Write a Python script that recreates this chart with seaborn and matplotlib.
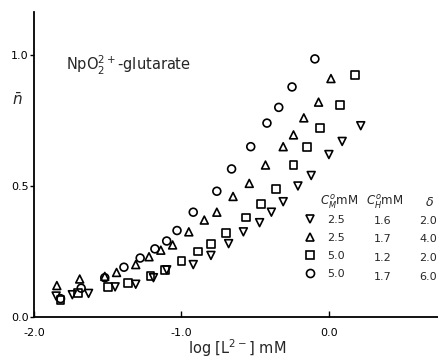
import numpy as np
import pandas as pd
import matplotlib
matplotlib.use("Agg")
import matplotlib.pyplot as plt
import seaborn as sns
from matplotlib.lines import Line2D

sns.set_theme(style="white")
plt.rcParams['font.family'] = ['DejaVu Sans']
plt.rcParams['mathtext.fontset'] = 'dejavusans'

# ---- data ----
# series: C_M=2.5, C_H=1.6, delta=2.0 (down triangles)
x_tri_down = [-1.85, -1.74, -1.63, -1.45, -1.31, -1.19, -1.10, -0.92, -0.80, -0.68,
              -0.58, -0.47, -0.39, -0.31, -0.21, -0.12, 0.00, 0.09, 0.216]
y_tri_down = [0.08, 0.085, 0.09, 0.115, 0.125, 0.15, 0.18, 0.20, 0.235, 0.28,
              0.325, 0.36, 0.40, 0.44, 0.50, 0.54, 0.62, 0.67, 0.73]
# series: C_M=2.5, C_H=1.7, delta=4.0 (up triangles)
x_tri_up = [-1.845, -1.69, -1.52, -1.44, -1.31, -1.22, -1.14, -1.06, -0.95, -0.845,
            -0.76, -0.65, -0.54, -0.43, -0.31, -0.24, -0.17, -0.07, 0.014]
y_tri_up = [0.12, 0.145, 0.155, 0.17, 0.20, 0.23, 0.255, 0.275, 0.325, 0.37,
            0.40, 0.46, 0.51, 0.58, 0.65, 0.695, 0.76, 0.82, 0.91]
# series: C_M=5.0, C_H=1.2, delta=2.0 (squares)
x_square = [-1.82, -1.70, -1.50, -1.36, -1.21, -1.11, -1.00, -0.89, -0.80, -0.70,
            -0.56, -0.46, -0.36, -0.24, -0.15, -0.06, 0.074, 0.176]
y_square = [0.065, 0.09, 0.115, 0.13, 0.155, 0.18, 0.215, 0.25, 0.28, 0.32,
            0.38, 0.43, 0.49, 0.58, 0.65, 0.72, 0.81, 0.924]
# series: C_M=5.0, C_H=1.7, delta=6.0 (circles)
x_circle = [-1.82, -1.68, -1.52, -1.39, -1.28, -1.18, -1.10, -1.03, -0.92, -0.76,
            -0.66, -0.53, -0.42, -0.34, -0.25, -0.095]
y_circle = [0.07, 0.11, 0.15, 0.19, 0.225, 0.26, 0.29, 0.33, 0.40, 0.48,
            0.565, 0.65, 0.74, 0.80, 0.878, 0.985]

series_names = ["tri_down", "tri_up", "square", "circle"]
series_markers = ["v", "^", "s", "o"]
col_cm = ["2.5", "2.5", "5.0", "5.0"]
col_ch = ["1.6", "1.7", "1.2", "1.7"]
col_delta = ["2.0", "4.0", "2.0", "6.0"]

x_ticks = [-2.0, -1.0, 0.0]
x_ticklabels = ["-2.0", "-1.0", "0.0"]
y_ticks = [0.0, 0.5, 1.0]
y_ticklabels = ["0.0", "0.5", "1.0"]

frames = []
for name, xs, ys in zip(series_names,
                        [x_tri_down, x_tri_up, x_square, x_circle],
                        [y_tri_down, y_tri_up, y_square, y_circle]):
    frames.append(pd.DataFrame({"x": xs, "y": ys, "series": name}))
df = pd.concat(frames, ignore_index=True)

W, H = 438, 358
fig = plt.figure(figsize=(W / 100, H / 100), dpi=100)
ax = fig.add_axes([34 / W, 1 - 317 / H, (W - 34) / W, (317 - 12) / H])

for name, mk in zip(series_names, series_markers):
    sub = df[df["series"] == name]
    sns.scatterplot(data=sub, x="x", y="y", marker=mk, s=32,
                    facecolor="none", edgecolor="black", linewidth=1.2,
                    ax=ax, legend=False, zorder=3)

ax.set_xlim(-2.0, 0.74)
ax.set_ylim(0.0, 1.164)
ax.set_xticks(x_ticks)
ax.set_xticklabels(x_ticklabels)
ax.set_yticks(y_ticks)
ax.set_yticklabels(y_ticklabels)
for s in ["top", "right"]:
    ax.spines[s].set_visible(False)
for s in ["left", "bottom"]:
    ax.spines[s].set_color("black")
    ax.spines[s].set_linewidth(1.3)
ax.tick_params(axis="x", direction="in", length=4, width=1, colors="black",
               labelsize=8, pad=8, bottom=True)
ax.tick_params(axis="y", direction="out", length=3, width=1, colors="black",
               labelsize=8, pad=1, left=True)
ax.set_xlabel("")
ax.set_ylabel("")

# title-like label inside plot
ax.text(-1.78, 0.96, r"NpO$_2^{2+}$-glutarate", fontsize=10.5, ha="left", va="center")
# y label
fig.text(17 / W, 1 - 100 / H, r"$\bar{n}$", fontsize=11, ha="center", va="center")
# x label
fig.text(237 / W, 1 - 348 / H, r"log [L$^{2-}$] mM", fontsize=10.5, ha="center", va="center")

# legend table
handles = [Line2D([], [], linestyle="none", marker=mk, markersize=5.8,
                  markerfacecolor="none", markeredgecolor="black", markeredgewidth=1.2)
           for mk in series_markers]
leg = fig.legend(handles, col_cm, loc="upper left",
                 bbox_to_anchor=(303 / W, 1 - 215 / H), frameon=False,
                 fontsize=8, borderpad=0, borderaxespad=0, handlelength=1.2,
                 handletextpad=1.0, labelspacing=0.72)

row_y = [221, 239, 258, 277]
fig.text(320 / W, 1 - 202 / H, r"$C^{o}_{M}$mM", fontsize=8.5, ha="left", va="center")
fig.text(366 / W, 1 - 202 / H, r"$C^{o}_{H}$mM", fontsize=8.5, ha="left", va="center")
fig.text(430 / W, 1 - 202 / H, r"$\delta$", fontsize=9, ha="center", va="center")
for ry, ch, dl in zip(row_y, col_ch, col_delta):
    fig.text(383 / W, 1 - ry / H, ch, fontsize=8, ha="center", va="center")
    fig.text(428 / W, 1 - ry / H, dl, fontsize=8, ha="center", va="center")

fig.savefig("out.png", dpi=100)
